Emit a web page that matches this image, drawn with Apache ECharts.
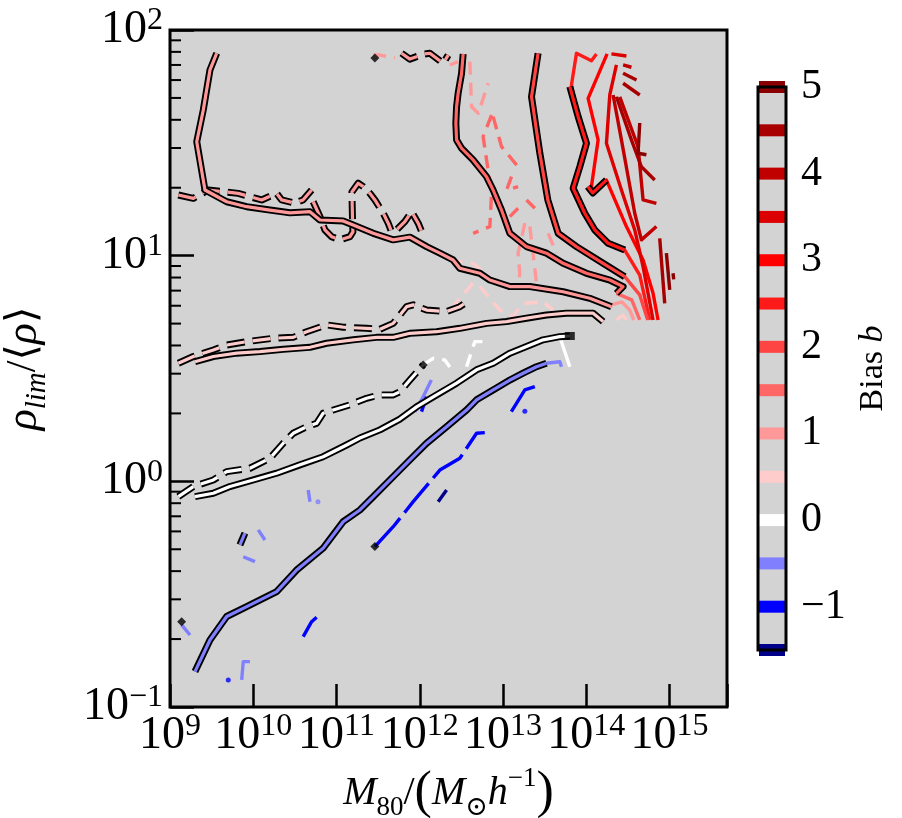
<!DOCTYPE html>
<html>
<head>
<meta charset="utf-8">
<script src="https://cdn.jsdelivr.net/npm/echarts@6/dist/echarts.min.js"></script>
<style>
html,body{margin:0;padding:0;background:#fff;}
#chart{width:902px;height:818px;}
</style>
</head>
<body>
<div id="chart"></div>
<script>
// Contour vertices, stored as [log10 M80, log10 (rho_lim / <rho>)]

// Solid contours, drawn with a dark edge
const solidBias1 = [[9.561,1.897],[9.480,1.823],[9.400,1.646],[9.321,1.505],[9.420,1.291],[9.681,1.239],[9.921,1.217],[10.200,1.202],[10.441,1.190],[10.681,1.195],[10.801,1.158],[11.080,1.154],[11.200,1.136],[11.441,1.099],[11.681,1.070],[11.881,1.082],[12.082,1.040],[12.241,1.011],[12.401,0.981],[12.481,0.944],[12.721,0.922],[12.842,0.892],[13.082,0.863],[13.322,0.863],[13.722,0.840],[14.042,0.811],[14.302,0.774]];
const solidBias15 = [[12.521,1.894],[12.502,1.808],[12.461,1.720],[12.442,1.660],[12.433,1.587],[12.442,1.513],[12.502,1.476],[12.641,1.424],[12.802,1.350],[12.881,1.291],[12.982,1.202],[13.082,1.099],[13.282,1.040],[13.522,1.011],[13.722,0.966],[14.002,0.922],[14.282,0.892],[14.442,0.863],[14.362,0.833]];
const solidBias05 = [[9.300,0.530],[9.520,0.553],[9.801,0.568],[10.080,0.575],[10.360,0.585],[10.681,0.594],[10.881,0.612],[11.200,0.627],[11.481,0.638],[11.681,0.638],[11.881,0.656],[12.202,0.663],[12.481,0.678],[12.802,0.700],[13.042,0.708],[13.282,0.723],[13.522,0.737],[13.762,0.745],[14.082,0.745],[14.202,0.708]];
const solidBias0 = [[9.300,-0.068],[9.520,-0.053],[9.720,-0.023],[10.000,0.006],[10.281,0.036],[10.561,0.073],[10.840,0.109],[11.121,0.161],[11.281,0.192],[11.521,0.228],[11.761,0.276],[11.962,0.330],[12.161,0.374],[12.442,0.435],[12.682,0.494],[12.881,0.523],[13.082,0.568],[13.282,0.597],[13.481,0.627],[13.682,0.641],[13.802,0.644]];
const solidBiasNeg05 = [[9.300,-0.843],[9.480,-0.703],[9.681,-0.599],[9.921,-0.555],[10.281,-0.489],[10.521,-0.393],[10.840,-0.296],[11.080,-0.179],[11.281,-0.127],[11.441,-0.068],[11.681,0.021],[11.881,0.095],[12.082,0.169],[12.322,0.242],[12.562,0.316],[12.682,0.361],[12.881,0.405],[13.082,0.449],[13.241,0.479],[13.402,0.508],[13.522,0.523]];
const solidBias2 = [[13.421,1.897],[13.342,1.704],[13.442,1.454],[13.538,1.247],[13.662,1.099],[13.882,1.040],[14.202,0.966],[14.462,0.907]];
const solidBias25 = [[13.802,1.749],[13.902,1.616],[14.002,1.498],[13.922,1.394],[13.842,1.299],[13.982,1.188],[14.102,1.114],[14.262,1.055],[14.462,1.025]];
const solidBias25Hook = [[14.018,1.306],[14.078,1.278],[14.242,1.335]];

// Dashed contours, drawn with a dark edge
const dashedBias1Top = [[11.781,1.897],[11.881,1.871],[12.041,1.893],[12.121,1.897],[12.281,1.853],[12.341,1.889]];
const dashedBias1Left = [[9.100,1.269],[9.280,1.254],[9.460,1.291],[9.820,1.276],[10.101,1.247],[10.281,1.276],[10.341,1.247],[10.501,1.233],[10.597,1.247],[10.701,1.291]];
const dashedBias1Loop = [[10.720,1.239],[10.801,1.173],[10.861,1.114],[10.941,1.084],[11.041,1.070],[11.161,1.084],[11.197,1.105],[11.191,1.180],[11.185,1.282],[11.260,1.321],[11.321,1.306],[11.401,1.276],[11.461,1.247],[11.561,1.188],[11.621,1.144],[11.661,1.106],[11.721,1.114],[11.821,1.151],[11.902,1.195],[11.981,1.144],[12.025,1.105]];
const dashedBias05 = [[9.100,0.523],[9.280,0.553],[9.520,0.582],[9.681,0.604],[9.921,0.619],[10.240,0.634],[10.480,0.638],[10.641,0.663],[10.881,0.693],[11.080,0.683],[11.361,0.678],[11.521,0.674],[11.681,0.700],[11.842,0.774],[11.921,0.782],[12.082,0.759],[12.322,0.752],[12.481,0.774],[12.601,0.804]];
const dashedBias0 = [[9.100,-0.068],[9.280,-0.023],[9.520,0.006],[9.681,0.043],[9.960,0.058],[10.200,0.102],[10.360,0.169],[10.480,0.213],[10.641,0.242],[10.761,0.257],[10.840,0.302],[10.960,0.316],[11.161,0.339],[11.361,0.368],[11.521,0.383],[11.681,0.383],[11.761,0.397],[11.881,0.449],[12.041,0.516]];
const dashedBiasNeg05Bit = [[9.840,-0.282],[9.900,-0.230]];

// Contours of the second set, drawn without an edge
const plainBias0Tail = [[13.682,0.641],[13.802,0.508]];
const plainDashBias0a = [[12.041,0.516],[12.161,0.545],[12.301,0.538],[12.361,0.507]];
const plainDashBias0b = [[12.562,0.508],[12.661,0.619],[12.781,0.619]];
const plainBiasNeg05Tail = [[13.522,0.523],[13.682,0.530],[13.702,0.508]];
const plainBiasNeg05a = [[11.941,0.309],[12.041,0.375],[12.139,0.449]];
const plainBiasNeg05b = [[10.660,-0.038],[10.681,-0.090]];
const plainBiasNeg05c = [[10.060,-0.215],[10.140,-0.260]];
const plainBiasNeg05d = [[9.880,-0.334],[10.020,-0.356]];
const plainBiasNeg05e = [[9.140,-0.636],[9.240,-0.681]];
const plainBiasNeg05f = [[9.861,-0.880],[9.880,-0.799],[9.960,-0.799]];
const dashBiasNeg1 = [[11.461,-0.289],[11.681,-0.201],[11.842,-0.127],[11.921,-0.090],[12.241,0.050],[12.481,0.102],[12.682,0.213],[12.781,0.216]];
const dashBiasNeg1b = [[13.100,0.309],[13.262,0.405],[13.382,0.420]];
const plainBiasNeg1a = [[12.021,0.309],[12.081,0.375]];
const plainBiasNeg1b = [[10.600,-0.688],[10.701,-0.622],[10.761,-0.602]];
const plainBiasNeg15 = [[12.221,-0.090],[12.322,-0.038]];
const dotsBiasNeg1 = [[9.700,-0.880],[13.262,0.311]];
const dotsBiasNeg05 = [[10.777,-0.091]];

const plainBias25 = [[14.122,1.894],[14.062,1.864],[13.882,1.897],[13.822,1.756],[13.902,1.616],[14.002,1.498],[13.922,1.394],[13.842,1.299],[13.982,1.188],[14.102,1.114],[14.262,1.055],[14.462,1.025],[14.642,0.914],[14.762,0.715]];
const plainBias3 = [[14.250,1.894],[14.022,1.697],[14.142,1.513],[14.062,1.306],[14.078,1.278],[14.242,1.335],[14.482,1.129],[14.682,0.981],[14.802,0.833],[14.862,0.715]];
const plainBias35 = [[14.362,1.845],[14.282,1.712],[14.242,1.498],[14.422,1.291],[14.582,1.114],[14.682,0.951],[14.802,0.715]];
const plainBias35Top = [[14.302,1.894],[14.482,1.885]];
const plainBias4a = [[14.442,1.845],[14.542,1.835]];
const plainBias4b = [[14.322,1.712],[14.422,1.513],[14.582,1.188],[14.662,1.070],[14.842,1.129]];
const plainBias4c = [[14.402,1.704],[14.622,1.482],[14.682,1.247],[14.842,1.232]];
const plainBias45a = [[14.442,1.808],[14.603,1.778]];
const plainBias45b = [[14.442,1.764],[14.642,1.712]];
const plainBias45c = [[14.362,1.704],[14.542,1.513],[14.662,1.394],[14.822,1.335]];
const plainBias45d = [[14.882,1.077],[14.942,0.789]];
const plainBias5a = [[14.642,1.588],[14.622,1.454],[14.722,1.447]];
const plainBias5b = [[14.962,1.011],[15.002,0.848]];
const plainBias5c = [[15.042,0.922],[15.050,0.895]];
const plainBias2Low = [[14.462,0.907],[14.642,0.826],[14.738,0.715]];
const plainBias15Low = [[14.362,0.833],[14.546,0.804],[14.642,0.715]];
const plainBias1Low = [[14.258,0.777],[14.426,0.795],[14.522,0.759],[14.570,0.715]];
const plainBias05Low = [[14.362,0.715],[14.442,0.737],[14.482,0.715]];

const dashBias1Top = [[11.441,1.889],[11.521,1.889],[11.701,1.876]];
const dashBias1TopB = [[12.361,1.845],[12.461,1.860]];
const dashBias1a = [[12.601,1.860],[12.622,1.660],[12.702,1.631],[12.822,1.764]];
const dashBias15a = [[12.862,1.623],[12.761,1.527],[12.862,1.276],[12.842,1.129],[12.641,1.099]];
const dashBias15b = [[12.881,1.616],[12.982,1.483],[13.181,1.394]];
const dashBias15c = [[13.102,1.350],[13.042,1.291],[13.181,1.306]];
const dashBias15d = [[13.282,1.247],[13.382,1.210]];
const dashBias15e = [[13.181,1.210],[13.082,1.173]];
const dashBias1b = [[13.262,1.144],[13.181,1.011],[13.201,0.922],[13.181,0.863]];
const dashBias1c = [[13.322,1.129],[13.402,0.878]];
const dashBias1d = [[13.542,1.099],[13.642,1.011]];
const dashBias05a = [[12.361,0.981],[12.641,0.966],[12.922,0.878],[13.002,0.848]];
const dashBias05b = [[12.641,0.878],[12.461,0.804],[12.401,0.774]];
const dashBias05c = [[12.722,0.863],[12.962,0.759],[13.122,0.730],[13.202,0.774],[13.282,0.789],[13.481,0.796],[13.601,0.759]];

// Contour end points marked in black
const endMarks = [[9.140,-0.622],[11.461,1.876],[12.041,0.516],[11.461,-0.289]];
const endSquares = [[13.802,0.644]];

// Colour bar levels
const biasLevels = [-1.5,-1,-0.5,0,0.5,1,1.5,2,2.5,3,3.5,4,4.5,5];
const biasColors = ['#00008b','#0000ff','#8080ff','#ffffff','#ffcccc','#ff9999','#ff6666','#ff4444','#ff1a1a','#ff0000','#dd0000','#c00000','#a80000','#8b0000'];

// Axis ticks
const minorDensityTicks = [0.2,0.3,0.4,0.5,0.6,0.7,0.8,0.9,2,3,4,5,6,7,8,9,20,30,40,50,60,70,80,90];

const FONT = "'Liberation Serif','DejaVu Serif',serif";
const levelColor = l => biasColors[biasLevels.indexOf(l)];
const toLinear = p => [Math.pow(10, p[0]), Math.pow(10, p[1])];

// [vertices, bias level, style]
const contours = [
  [plainBias25, 2.5, 'solid'], [plainBias3, 3, 'solid'], [plainBias35, 3.5, 'solid'], [plainBias35Top, 3.5, 'solid'],
  [plainBias4a, 4, 'solid'], [plainBias4b, 4, 'solid'], [plainBias4c, 4, 'solid'],
  [plainBias45a, 4.5, 'solid'], [plainBias45b, 4.5, 'solid'], [plainBias45c, 4.5, 'solid'], [plainBias45d, 4.5, 'solid'],
  [plainBias5a, 5, 'solid'], [plainBias5b, 5, 'solid'], [plainBias5c, 5, 'solid'],
  [plainBias2Low, 2, 'solid'], [plainBias15Low, 1.5, 'solid'], [plainBias1Low, 1, 'solid'], [plainBias05Low, 0.5, 'solid'],
  [dashBias1Top, 1, 'dash'], [dashBias1TopB, 1, 'dash'], [dashBias1a, 1, 'dash'],
  [dashBias15a, 1.5, 'dash'], [dashBias15b, 1.5, 'dash'], [dashBias15c, 1.5, 'dash'], [dashBias15d, 1.5, 'dash'], [dashBias15e, 1.5, 'dash'],
  [dashBias1b, 1, 'dash'], [dashBias1c, 1, 'dash'], [dashBias1d, 1, 'dash'],
  [dashBias05a, 0.5, 'dash'], [dashBias05b, 0.5, 'dash'], [dashBias05c, 0.5, 'dash'],
  [plainBias0Tail, 0, 'solid'], [plainDashBias0a, 0, 'dash'], [plainDashBias0b, 0, 'dash'],
  [plainBiasNeg05Tail, -0.5, 'solid'], [plainBiasNeg05a, -0.5, 'solid'], [plainBiasNeg05b, -0.5, 'solid'],
  [plainBiasNeg05c, -0.5, 'solid'], [plainBiasNeg05d, -0.5, 'solid'], [plainBiasNeg05e, -0.5, 'solid'], [plainBiasNeg05f, -0.5, 'solid'],
  [dashBiasNeg1, -1, 'longdash'], [dashBiasNeg1b, -1, 'solid'], [plainBiasNeg1a, -1, 'solid'], [plainBiasNeg1b, -1, 'solid'],
  [plainBiasNeg15, -1.5, 'solid'],
  [dashedBias1Top, 1, 'edgeDash'], [dashedBias1Left, 1, 'edgeDash'], [dashedBias1Loop, 1, 'edgeDash'],
  [dashedBias05, 0.5, 'edgeDash'], [dashedBias0, 0, 'edgeDash'], [dashedBiasNeg05Bit, -0.5, 'edgeDash'],
  [solidBias1, 1, 'edge'], [solidBias15, 1.5, 'edge'], [solidBias05, 0.5, 'edge'], [solidBias0, 0, 'edge'],
  [solidBiasNeg05, -0.5, 'edge'], [solidBias2, 2, 'edge'], [solidBias25, 2.5, 'edge'], [solidBias25Hook, 2.5, 'edge']
];

const dashPatterns = { dash: [13, 8], longdash: [38, 7], edgeDash: [18, 8] };

function lineSeries(pts, color, width, type, z) {
  return {
    type: 'line', xAxisIndex: 0, yAxisIndex: 0, data: pts.map(toLinear),
    symbol: 'none', showSymbol: false, silent: true, animation: false, z: z,
    lineStyle: { color: color, width: width, type: type, cap: 'butt', join: 'round' }
  };
}

const series = [];
contours.forEach(([pts, level, style]) => {
  const color = levelColor(level);
  if (style === 'edge' || style === 'edgeDash') {
    const type = style === 'edge' ? 'solid' : dashPatterns.edgeDash;
    const z = style === 'edge' ? 6 : 5;
    series.push(lineSeries(pts, '#000', 7, type, z));
    series.push(lineSeries(pts, color, 3.2, type, z));
  } else {
    series.push(lineSeries(pts, color, 3.4, style === 'solid' ? 'solid' : dashPatterns[style], 3));
  }
});

series.push({
  type: 'scatter', xAxisIndex: 0, yAxisIndex: 0, silent: true, animation: false, z: 7,
  data: dotsBiasNeg1.map(toLinear), symbol: 'circle', symbolSize: 5, itemStyle: { color: '#0000ff' }
});
series.push({
  type: 'scatter', xAxisIndex: 0, yAxisIndex: 0, silent: true, animation: false, z: 7,
  data: dotsBiasNeg05.map(toLinear), symbol: 'circle', symbolSize: 5, itemStyle: { color: '#8080ff' }
});
series.push({
  type: 'scatter', xAxisIndex: 0, yAxisIndex: 0, silent: true, animation: false, z: 7,
  data: endMarks.map(toLinear), symbol: 'diamond', symbolSize: 9, itemStyle: { color: '#000' }
});
series.push({
  type: 'scatter', xAxisIndex: 0, yAxisIndex: 0, silent: true, animation: false, z: 7,
  data: endSquares.map(toLinear), symbol: 'rect', symbolSize: [10, 8], itemStyle: { color: '#000' }
});

// Minor ticks on the density axis
series.push({
  type: 'custom', coordinateSystem: 'cartesian2d', xAxisIndex: 0, yAxisIndex: 0, silent: true, animation: false, z: 8,
  data: minorDensityTicks.map(v => [1e9, v]),
  renderItem: (params, api) => {
    const p = api.coord([api.value(0), api.value(1)]);
    return { type: 'line', shape: { x1: p[0], y1: p[1], x2: p[0] + 11, y2: p[1] }, style: { stroke: '#000', lineWidth: 2 } };
  }
});

// Colour bar stripes
series.push({
  type: 'custom', coordinateSystem: 'cartesian2d', xAxisIndex: 1, yAxisIndex: 1, silent: true, animation: false, z: 3,
  data: biasLevels.map(l => [0, l]),
  renderItem: (params, api) => {
    const a = api.coord([0, api.value(1)]);
    const b = api.coord([1, api.value(1)]);
    return { type: 'rect', shape: { x: a[0] + 1, y: a[1] - 6, width: b[0] - a[0] - 2, height: 12 }, style: { fill: biasColors[params.dataIndex] } };
  }
});
// Colour bar outline
series.push({
  type: 'custom', coordinateSystem: 'cartesian2d', xAxisIndex: 1, yAxisIndex: 1, silent: true, animation: false, z: 4,
  data: [[0, 5]],
  renderItem: (params, api) => {
    const tl = api.coord([0, 5]);
    const br = api.coord([1, -1.5]);
    return { type: 'rect', shape: { x: tl[0], y: tl[1], width: br[0] - tl[0], height: br[1] - tl[1] }, style: { fill: 'rgba(0,0,0,0)', stroke: '#000', lineWidth: 3 } };
  }
});

const powerRich = {
  b: { fontFamily: FONT, fontSize: 46, lineHeight: 50, color: '#000' },
  s: { fontFamily: FONT, fontSize: 32, lineHeight: 34, verticalAlign: 'top', color: '#000' }
};
function powerLabel(v) {
  const e = Math.log10(v);
  const r = Math.round(e);
  if (Math.abs(e - r) > 1e-6) return '';
  return '{b|10}{s|' + String(r).replace('-', '\u2212') + '}';
}

const option = {
  backgroundColor: '#ffffff',
  animation: false,
  grid: [
    { left: 170, top: 30, width: 557, height: 677, show: true, backgroundColor: '#d3d3d3', borderColor: '#000', borderWidth: 3, containLabel: false, outerBoundsMode: 'none' },
    { left: 758, top: 87, width: 28, height: 563, show: true, backgroundColor: '#d3d3d3', borderWidth: 0, containLabel: false, outerBoundsMode: 'none' }
  ],
  xAxis: [
    {
      type: 'log', logBase: 10, gridIndex: 0, min: 1e9, max: Math.pow(10, 15.69),
      axisLine: { show: false },
      axisTick: { inside: true, length: 23, lineStyle: { color: '#000', width: 2.5 } },
      splitLine: { show: false },
      axisLabel: { formatter: powerLabel, rich: powerRich, margin: 4 },
      name: '{i|M}{sub|80}{n|/}{p|(}{i|M}{sub|\u2299}{i|h}{sup|\u22121}{p|)}',
      nameLocation: 'middle', nameGap: 58,
      nameTextStyle: {
        fontFamily: FONT, fontSize: 40, color: '#000',
        rich: {
          i: { fontFamily: FONT, fontSize: 40, fontStyle: 'italic', lineHeight: 56, color: '#000' },
          n: { fontFamily: FONT, fontSize: 40, lineHeight: 56, color: '#000' },
          p: { fontFamily: FONT, fontSize: 52, lineHeight: 56, color: '#000' },
          sub: { fontFamily: FONT, fontSize: 27, lineHeight: 26, verticalAlign: 'bottom', color: '#000' },
          sup: { fontFamily: FONT, fontSize: 27, lineHeight: 28, verticalAlign: 'top', color: '#000' }
        }
      }
    },
    { type: 'value', gridIndex: 1, min: 0, max: 1, show: false }
  ],
  yAxis: [
    {
      type: 'log', logBase: 10, gridIndex: 0, min: 0.1, max: 100,
      axisLine: { show: false },
      axisTick: { inside: true, length: 24, lineStyle: { color: '#000', width: 2.5 } },
      splitLine: { show: false },
      axisLabel: { formatter: powerLabel, rich: powerRich, margin: 7 },
      name: '{i|\u03c1}{sub|lim}{n|/\u27e8}{i|\u03c1}{n|\u27e9}',
      nameLocation: 'middle', nameRotate: 90, nameGap: 118,
      nameTextStyle: {
        fontFamily: FONT, fontSize: 42, color: '#000',
        rich: {
          i: { fontFamily: FONT, fontSize: 44, fontStyle: 'italic', lineHeight: 56, color: '#000' },
          n: { fontFamily: FONT, fontSize: 42, lineHeight: 56, color: '#000' },
          sub: { fontFamily: FONT, fontSize: 29, fontStyle: 'italic', lineHeight: 26, verticalAlign: 'bottom', color: '#000' }
        }
      }
    },
    {
      type: 'value', gridIndex: 1, min: -1.5, max: 5, interval: 0.5, position: 'right',
      axisLine: { show: false }, axisTick: { show: false }, splitLine: { show: false },
      axisLabel: {
        margin: 15, fontFamily: FONT, fontSize: 42, color: '#000',
        formatter: v => (Math.abs(v - Math.round(v)) < 1e-9 ? String(Math.round(v)).replace('-', '\u2212') : '')
      },
      name: '{n|Bias }{i|b}', nameLocation: 'middle', nameRotate: 90, nameGap: 70,
      nameTextStyle: {
        fontFamily: FONT, fontSize: 34, color: '#000',
        rich: {
          n: { fontFamily: FONT, fontSize: 34, color: '#000' },
          i: { fontFamily: FONT, fontSize: 34, fontStyle: 'italic', color: '#000' }
        }
      }
    }
  ],
  series: series
};

const chart = echarts.init(document.getElementById('chart'), null, { renderer: 'canvas', width: 902, height: 818 });
chart.setOption(option);
</script>
</body>
</html>
